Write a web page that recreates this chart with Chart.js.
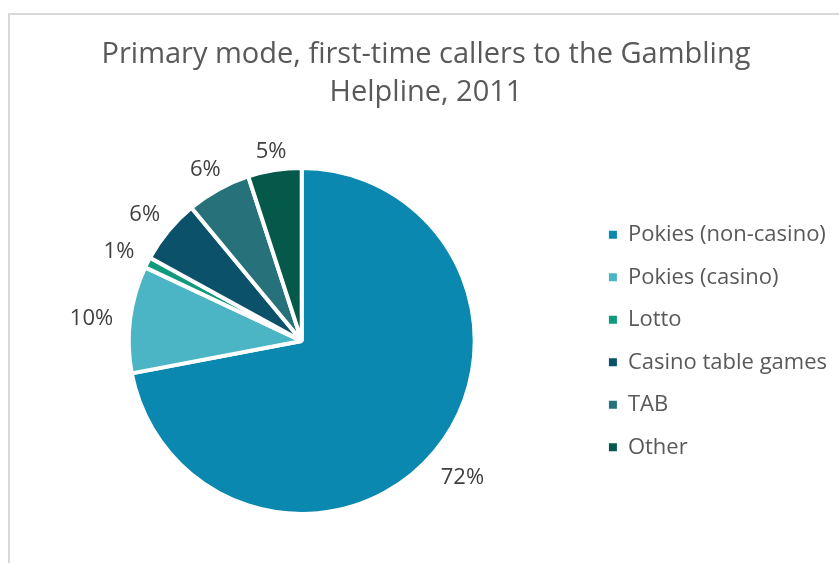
<!DOCTYPE html>
<html>
<head>
<meta charset="utf-8">
<title>Primary mode, first-time callers</title>
<script src="https://cdn.jsdelivr.net/npm/chart.js@4"></script>
<style>
  html, body { margin: 0; padding: 0; background: #fff; overflow: hidden; }
  #chartFrame {
    position: absolute;
    left: 8px;
    top: 13px;
    width: 900px;
    height: 600px;
    border-left: 2px solid #d9d9d9;
    border-top: 2px solid #d9d9d9;
  }
  #chartBox {
    position: absolute;
    left: 15px;
    top: 13px;
    width: 822px;
    height: 500px;
  }
</style>
</head>
<body>
<div id="chartFrame"></div>
<div id="chartBox"><canvas id="myChart"></canvas></div>

<script>
const gChartTitle = ['Primary mode, first-time callers to the Gambling', 'Helpline, 2011']
const gModeLabels = ['Pokies (non-casino)', 'Pokies (casino)', 'Lotto', 'Casino table games', 'TAB', 'Other']
const gModeShares = [72, 10, 1, 6, 6, 5]
const gSliceColours = ['#0a88b0', '#4bb5c6', '#0f9a7b', '#0a5169', '#27717a', '#04594a']

const gFont = "'Open Sans', 'Liberation Sans', sans-serif"

// percentage labels sitting just outside each slice
const outsideLabels = {
  id: 'outsideLabels',
  afterDatasetsDraw(chart) {
    const ctx = chart.ctx
    const meta = chart.getDatasetMeta(0)
    ctx.save()
    ctx.font = `22px ${gFont}`
    ctx.fillStyle = '#404040'
    ctx.textAlign = 'center'
    ctx.textBaseline = 'middle'
    meta.data.forEach((arc, i) => {
      const { x, y, startAngle, endAngle, outerRadius } = arc.getProps(['x', 'y', 'startAngle', 'endAngle', 'outerRadius'], true)
      const mid = (startAngle + endAngle) / 2
      const text = chart.data.datasets[0].data[i] + '%'
      const w = ctx.measureText(text).width
      const cos = Math.cos(mid)
      const sin = Math.sin(mid)
      const dist = outerRadius + 17 + Math.abs(cos) * w / 2 + Math.abs(sin) * 3
      ctx.fillText(text, x + cos * dist, y + sin * dist + 4)
    })
    ctx.restore()
  }
}

function displayChart() {
  const ctx = document.getElementById('myChart').getContext('2d')
  new Chart(ctx, {
    type: 'pie',
    data: {
      labels: gModeLabels,
      datasets: [{
        data: gModeShares,
        backgroundColor: gSliceColours,
        borderColor: '#ffffff',
        borderWidth: 4,
        hoverOffset: 0
      }]
    },
    plugins: [outsideLabels],
    options: {
      responsive: true,
      maintainAspectRatio: false,
      animation: false,
      events: [],
      radius: 173,
      layout: { padding: 0 },
      plugins: {
        title: {
          display: true,
          text: gChartTitle,
          color: '#595959',
          padding: { top: 23, bottom: 57 },
          font: { family: gFont, size: 29, weight: 'normal', lineHeight: 1.31 }
        },
        legend: {
          position: 'right',
          fullSize: false,
          labels: {
            color: '#595959',
            boxWidth: 8,
            boxHeight: 8,
            padding: 20.5,
            font: { family: gFont, size: 22 },
            generateLabels(chart) {
              const items = Chart.overrides.pie.plugins.legend.labels.generateLabels(chart)
              items.forEach(item => {
                item.lineWidth = 0
                item.strokeStyle = 'rgba(0,0,0,0)'
              })
              return items
            }
          }
        },
        tooltip: { enabled: false }
      }
    }
  })
}

displayChart()
</script>
</body>
</html>
